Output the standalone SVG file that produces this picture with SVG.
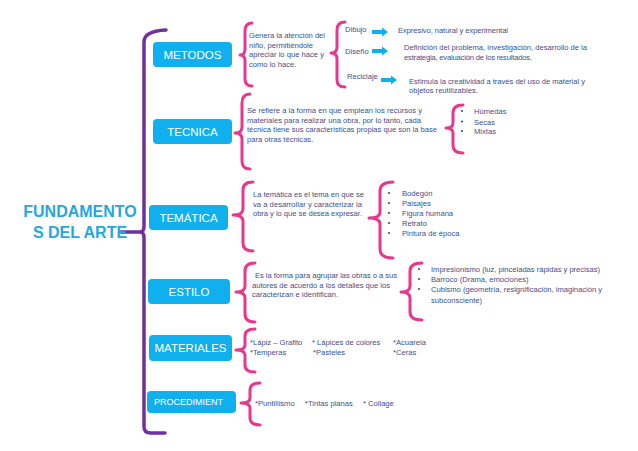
<svg xmlns="http://www.w3.org/2000/svg" width="638" height="451" viewBox="0 0 638 451">
<defs>
<style>
.box{fill:#10b0ee}
.bl{font-family:"Liberation Sans",Arial,sans-serif;font-size:11.5px;fill:#ffffff;text-anchor:middle}
.t{font-family:"Liberation Sans",Arial,sans-serif;font-size:7.6px;fill:#3e4f8a}
.title{font-family:"Liberation Sans",Arial,sans-serif;font-size:16px;font-weight:bold;fill:#27a6df;text-anchor:middle}
.br{fill:none;stroke:#e8378f;stroke-width:3;stroke-linecap:round;stroke-linejoin:round}
.pu{fill:none;stroke:#7030a0;stroke-width:3.5;stroke-linecap:round;stroke-linejoin:round}
.ar{fill:#10b0ee}
.dot{fill:#3e4f8a}
</style>
</defs>
<rect width="638" height="451" fill="#ffffff"/>

<g id="connectors">
  <path class="pu" d="M166,30 Q144,31 144,42 L144,226 Q144,232 140,232 Q144,232 144,238 L144,427 Q144,433 151,433 L165,433"/>
  <path class="pu" d="M121,232 L141,232"/>
  <path class="br" d="M252,23 Q245,23 245,31 L245,49 Q245,55 240,55 Q245,55 245,61 L245,79 Q245,86 252,86"/>
  <path class="br" d="M345,22 Q337,22 337,30 L337,47 Q337,53 331,53 Q337,53 337,59 L337,80 Q337,87 345,87"/>
  <path class="br" d="M250,94 Q242,94 242,103 L242,127 Q242,133 235,133 Q242,133 242,139 L242,161 Q242,169 250,169"/>
  <path class="br" d="M463,105 Q453,105 453,113 L453,123 Q453,128 446,128 Q453,128 453,133 L453,145 Q453,153 463,153"/>
  <path class="br" d="M253,182 Q243,182 243,190 L243,209 Q243,215 233,215 Q243,215 243,221 L243,243 Q243,251 253,251"/>
  <path class="br" d="M393,182 Q380,182 380,191 L380,212 Q380,218 369,218 Q380,218 380,224 L380,249 Q380,258 393,258"/>
  <path class="br" d="M255,263 Q245,263 245,271 L245,286 Q245,292 236,292 Q245,292 245,298 L245,314 Q245,322 255,322"/>
  <path class="br" d="M422,263 Q410,263 410,271 L410,286 Q410,292 401,292 Q410,292 410,298 L410,312 Q410,320 422,320"/>
  <path class="br" d="M255,329 Q245,329 245,336 L245,345 Q245,350 236,350 Q245,350 245,355 L245,365 Q245,372 255,372"/>
  <path class="br" d="M260,383 Q250,383 250,390 L250,398 Q250,403 241,403 Q250,403 250,408 L250,418 Q250,425 260,425"/>
  <polygon class="ar" points="372,30 382,30 382,27.5 388,32 382,36.5 382,34 372,34"/>
  <polygon class="ar" points="372,49 382,49 382,46.5 388,51 382,55.5 382,53 372,53"/>
  <polygon class="ar" points="381,78 391,78 391,75.5 397,80 391,84.5 391,82 381,82"/>
</g>

<g id="title">
  <text class="title" x="80" y="217">FUNDAMENTO</text>
  <text class="title" x="80" y="238">S DEL ARTE</text>
</g>

<g id="metodos">
  <rect class="box" x="153" y="42" width="79" height="25" rx="4"/>
  <text class="bl" x="192.5" y="59">METODOS</text>
</g>
<g id="metodos-desc">
  <text class="t" x="249" y="38" textLength="76" lengthAdjust="spacing">Genera la atención del</text>
  <text class="t" x="249" y="47.5" textLength="64" lengthAdjust="spacing">niño, permitiéndole</text>
  <text class="t" x="249" y="57" textLength="75" lengthAdjust="spacing">apreciar lo que hace y</text>
  <text class="t" x="249" y="66.5">como lo hace.</text>
</g>
<g id="dibujo">
  <text class="t" x="345" y="32">Dibujo</text>
  <text class="t" x="398" y="33" textLength="110" lengthAdjust="spacing">Expresivo, natural y experimental</text>
</g>
<g id="diseno">
  <text class="t" x="345" y="54">Diseño</text>
  <text class="t" x="404" y="50" textLength="183" lengthAdjust="spacing">Definición del problema, investigación, desarrollo de la</text>
  <text class="t" x="404" y="59.5" textLength="128" lengthAdjust="spacing">estrategia, evaluación de los resultados.</text>
</g>
<g id="reciclaje">
  <text class="t" x="347" y="79">Reciclaje</text>
  <text class="t" x="409" y="84" textLength="176" lengthAdjust="spacing">Estimula la creatividad a través del uso de material y</text>
  <text class="t" x="409" y="93">objetos reutilizables.</text>
</g>

<g id="tecnica">
  <rect class="box" x="153" y="119" width="79" height="25" rx="4"/>
  <text class="bl" x="192.5" y="135.5">TECNICA</text>
</g>
<g id="tecnica-desc">
  <text class="t" x="247" y="113" textLength="175" lengthAdjust="spacing">Se refiere a la forma en que emplean los recursos y</text>
  <text class="t" x="247" y="122.5" textLength="174" lengthAdjust="spacing">materiales para realizar una obra, por lo tanto, cada</text>
  <text class="t" x="247" y="132" textLength="190" lengthAdjust="spacing">técnica tiene sus características propias que son la base</text>
  <text class="t" x="247" y="141.5">para otras técnicas.</text>
</g>
<g id="tecnica-list">
  <circle class="dot" cx="462" cy="111" r="1.1"/>
  <circle class="dot" cx="462" cy="121.5" r="1.1"/>
  <circle class="dot" cx="462" cy="131" r="1.1"/>
  <text class="t" x="474" y="114">Húmedas</text>
  <text class="t" x="474" y="124.5">Secas</text>
  <text class="t" x="474" y="134">Mixtas</text>
</g>

<g id="tematica">
  <rect class="box" x="149" y="205" width="79" height="25" rx="4"/>
  <text class="bl" x="188.5" y="221.5">TEMÁTICA</text>
</g>
<g id="tematica-desc">
  <text class="t" x="253" y="197" textLength="111" lengthAdjust="spacing">La temática es el tema en que se</text>
  <text class="t" x="253" y="206.5" textLength="109" lengthAdjust="spacing">va a desarrollar y caracterizar la</text>
  <text class="t" x="253" y="216" textLength="109" lengthAdjust="spacing">obra y lo que se desea expresar.</text>
</g>
<g id="tematica-list">
  <circle class="dot" cx="389" cy="193" r="1.1"/>
  <circle class="dot" cx="389" cy="203" r="1.1"/>
  <circle class="dot" cx="389" cy="213" r="1.1"/>
  <circle class="dot" cx="389" cy="223" r="1.1"/>
  <circle class="dot" cx="389" cy="233" r="1.1"/>
  <text class="t" x="402" y="196">Bodegón</text>
  <text class="t" x="402" y="206">Paisajes</text>
  <text class="t" x="402" y="216">Figura humana</text>
  <text class="t" x="402" y="226">Retrato</text>
  <text class="t" x="402" y="236">Pintura de época</text>
</g>

<g id="estilo">
  <rect class="box" x="148" y="279" width="82" height="25" rx="4"/>
  <text class="bl" x="189" y="295.5">ESTILO</text>
</g>
<g id="estilo-desc">
  <text class="t" x="255" y="278" textLength="142" lengthAdjust="spacing">Es la forma para agrupar las obras o a sus</text>
  <text class="t" x="252" y="287.5" textLength="138" lengthAdjust="spacing">autores de acuerdo a los detalles que los</text>
  <text class="t" x="252" y="297">caracterizan e identifican.</text>
</g>
<g id="estilo-list">
  <circle class="dot" cx="419" cy="269" r="1.1"/>
  <circle class="dot" cx="419" cy="279" r="1.1"/>
  <circle class="dot" cx="419" cy="289" r="1.1"/>
  <text class="t" x="431" y="272" textLength="169" lengthAdjust="spacing">Impresionismo (luz, pinceladas rápidas y precisas)</text>
  <text class="t" x="431" y="282">Barroco (Drama, emociones)</text>
  <text class="t" x="431" y="292" textLength="171" lengthAdjust="spacing">Cubismo (geometría, resignificación, imaginación y</text>
  <text class="t" x="431" y="302.5">subconsciente)</text>
</g>

<g id="materiales">
  <rect class="box" x="149" y="335" width="83" height="26" rx="4"/>
  <text class="bl" x="190.5" y="352">MATERIALES</text>
</g>
<g id="materiales-list">
  <text class="t" x="250" y="345">*Lápiz – Grafito</text>
  <text class="t" x="312" y="345">* Lápices de colores</text>
  <text class="t" x="393" y="345">*Acuarela</text>
  <text class="t" x="250" y="355">*Temperas</text>
  <text class="t" x="313" y="355">*Pasteles</text>
  <text class="t" x="393" y="355">*Ceras</text>
</g>

<g id="procedimientos">
  <rect class="box" x="147" y="391" width="89" height="22" rx="4"/>
  <text x="154" y="405" style="font-family:'Liberation Sans',Arial,sans-serif;font-size:9px;fill:#ffffff">PROCEDIMIENT</text>
</g>
<g id="procedimientos-list">
  <text class="t" x="255" y="406">*Puntillismo</text>
  <text class="t" x="305" y="406">*Tintas planas</text>
  <text class="t" x="363" y="406">* Collage</text>
</g>
</svg>
